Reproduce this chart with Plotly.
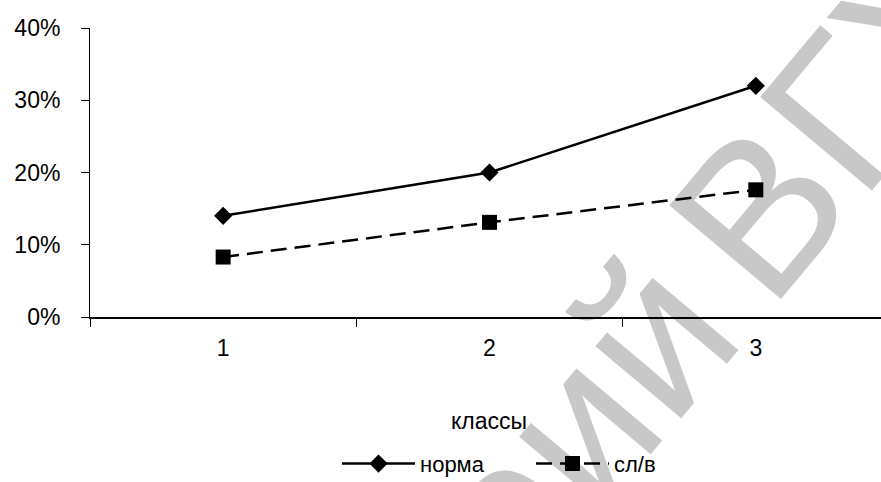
import math
import plotly.graph_objects as go

categories = ["1", "2", "3"]
norma = [0.14, 0.20, 0.32]
sl_v = [0.083, 0.131, 0.176]
y_ticks = [0, 0.1, 0.2, 0.3, 0.4]
y_tick_text = ["0%", "10%", "20%", "30%", "40%"]
watermark_a = "Репозиторий"
watermark_b = "ВГУ"

FONT = "Liberation Sans, Arial, sans-serif"
W, H = 881, 482
ML, MR, MT, MB = 90, 0, 28, 165
PW, PH = W - ML - MR, H - MT - MB


def px2paper(px, py):
    return (px - ML) / PW, (H - MB - py) / PH


fig = go.Figure()
fig.add_trace(go.Scatter(
    x=categories, y=norma, name="норма", mode="lines+markers",
    line=dict(color="black", width=2.5),
    marker=dict(symbol="diamond", size=14, color="black"),
))
fig.add_trace(go.Scatter(
    x=categories, y=sl_v, name="сл/в", mode="lines+markers",
    line=dict(color="black", width=2.5, dash="16px,8px"),
    marker=dict(symbol="square", size=15, color="black"),
))

# watermark (drawn below the data)
ang = math.radians(50)
d = (math.cos(ang), -math.sin(ang))
down = (math.sin(ang), math.cos(ang))
fs = 212
c = 30
b0 = (793 + down[0] * c, 277 + down[1] * c)
pa = (b0[0] - d[0] * (0.08 * fs + 25), b0[1] - d[1] * (0.08 * fs + 25))
pb = (b0[0] - d[0] * 0.36 * fs, b0[1] - d[1] * 0.36 * fs)


def wm_shape(p_from, p_to, text, pos, xanchor):
    x0, y0 = px2paper(*p_from)
    x1, y1 = px2paper(*p_to)
    fig.add_shape(type="line", xref="paper", yref="paper", x0=x0, y0=y0, x1=x1, y1=y1,
                  layer="below", line=dict(width=0, color="rgba(0,0,0,0)"),
                  label=dict(text=text, textposition=pos, textangle=-50,
                             xanchor=xanchor, yanchor="bottom", padding=0,
                             font=dict(size=fs, color="#c8c8c8", family=FONT)))


wm_shape(pa, (pa[0] + d[0] * 1000, pa[1] + d[1] * 1000), watermark_b, "start", "left")
wm_shape((pb[0] - d[0] * 2000, pb[1] - d[1] * 2000), pb, watermark_a, "end", "right")

fig.update_layout(
    width=W, height=H,
    margin=dict(l=ML, r=MR, t=MT, b=MB, autoexpand=False),
    plot_bgcolor="white", paper_bgcolor="white",
    font=dict(family=FONT, size=23, color="black"),
    showlegend=True,
    legend=dict(orientation="h", x=(345 - 90 - 8) / PW, xanchor="left", y=-0.508, yanchor="middle",
                font=dict(size=22), itemwidth=73, entrywidth=106,
                bgcolor="rgba(0,0,0,0)"),
    xaxis=dict(
        type="category", range=[-0.5, 2.47], tickson="boundaries",
        showline=True, linecolor="black", linewidth=1.5,
        ticks="outside", ticklen=8, tickcolor="black", tickwidth=1,
        showgrid=False, zeroline=False, ticklabelstandoff=10,
    ),
    yaxis=dict(
        range=[0, 0.4], tickvals=y_ticks, ticktext=y_tick_text,
        showline=True, linecolor="black", linewidth=1,
        ticks="outside", ticklen=8, tickcolor="black",
        showgrid=False, zeroline=False, ticklabelstandoff=16,
    ),
    annotations=[dict(text="классы", xref="paper", yref="paper", x=0.504, y=-0.36,
                      xanchor="center", yanchor="middle", showarrow=False,
                      font=dict(size=23))],
)

fig.write_html("out.html")
